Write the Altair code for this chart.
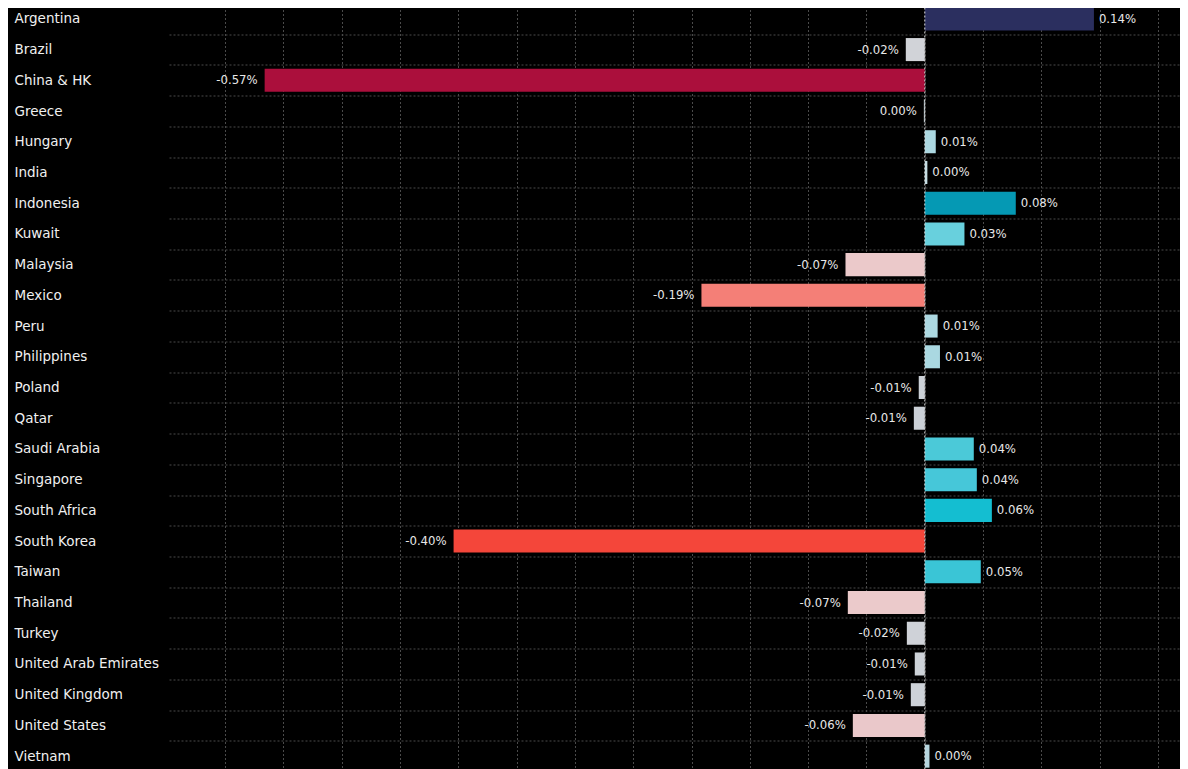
import altair as alt
import pandas as pd

countries = [
    "Argentina", "Brazil", "China & HK", "Greece", "Hungary", "India",
    "Indonesia", "Kuwait", "Malaysia", "Mexico", "Peru", "Philippines",
    "Poland", "Qatar", "Saudi Arabia", "Singapore", "South Africa",
    "South Korea", "Taiwan", "Thailand", "Turkey", "United Arab Emirates",
    "United Kingdom", "United States", "Vietnam",
]
values = [
    0.145, -0.0163, -0.566, -0.0008, 0.0094, 0.0022,
    0.078, 0.034, -0.068, -0.1915, 0.011, 0.013,
    -0.0052, -0.0094, 0.042, 0.0446, 0.0575,
    -0.404, 0.048, -0.066, -0.0154, -0.0086,
    -0.012, -0.0617, 0.004,
]
bar_colors = [
    "#2b2f5f", "#d1d3d8", "#ab0f3c", "#c8d8e0", "#acd8e1", "#c5dde3",
    "#0599b4", "#68d0dd", "#ebc9ca", "#f47f77", "#acd8e1", "#aad8e1",
    "#ccd1d7", "#cbd0d7", "#4bc9d8", "#46c7d9", "#14bed1",
    "#f4463a", "#3ac5d6", "#ebcacb", "#cfd2d8", "#cdd2d8",
    "#cdd2d8", "#eac8ca", "#b5d5de",
]
grid_values = [-0.60, -0.55, -0.50, -0.45, -0.40, -0.35, -0.30, -0.25, -0.20,
               -0.15, -0.10, -0.05, 0.0, 0.05, 0.10, 0.15, 0.20]

df = pd.DataFrame({"country": countries, "value": values})

x_scale = alt.Scale(domain=[-0.648, 0.2188], nice=False, zero=False)
y_scale = alt.Scale(domain=countries, paddingInner=0, paddingOuter=0)

grid_color = "#4a4a4a"
label_font = "DejaVu Sans Condensed, DejaVu Sans"

y_enc = alt.Y(
    "country:N", scale=y_scale, sort=None,
    axis=alt.Axis(
        title=None, labelAlign="left", labelPadding=155, ticks=False,
        domain=False, grid=True, tickBand="extent", gridColor=grid_color,
        gridDash=[2, 2], gridWidth=1, labelColor="#f0f0f0",
        labelFont="DejaVu Sans", labelFontSize=13.5, labelBaseline="middle",
    ),
)
x_enc = alt.X(
    "value:Q", scale=x_scale,
    axis=alt.Axis(
        title=None, labels=False, ticks=False, domain=False, grid=True,
        values=grid_values, gridColor=grid_color, gridDash=[2, 2], gridWidth=1,
    ),
)

base = alt.Chart(df)

bars = base.mark_bar(height={"band": 0.75}).encode(
    y=y_enc,
    x=x_enc,
    color=alt.Color("country:N", scale=alt.Scale(domain=countries, range=bar_colors), legend=None),
)

labeled = base.transform_calculate(
    label="(datum.value < 0 && abs(datum.value) >= 0.005 ? '-' : '') + format(abs(datum.value), '.2f') + '%'"
)

pos_labels = labeled.transform_filter("datum.value >= 0").mark_text(
    align="left", baseline="middle", dx=5, color="#e8e8e8", font=label_font, fontSize=13
).encode(
    y=alt.Y("country:N", scale=y_scale, sort=None),
    x=alt.X("value:Q", scale=x_scale),
    text="label:N",
)

neg_labels = labeled.transform_filter("datum.value < 0").mark_text(
    align="right", baseline="middle", dx=-7, color="#e8e8e8", font=label_font, fontSize=13
).encode(
    y=alt.Y("country:N", scale=y_scale, sort=None),
    x=alt.X("value:Q", scale=x_scale),
    text="label:N",
)

zero_rule = alt.Chart(pd.DataFrame({"zero": [0.0]})).mark_rule(
    color="#dddddd", strokeDash=[2, 2], strokeWidth=1
).encode(x=alt.X("zero:Q", scale=x_scale))

chart = alt.layer(bars, zero_rule, pos_labels, neg_labels).properties(
    width=1011,
    height=768,
    background="#000000",
    autosize=alt.AutoSizeParams(type="none"),
    padding={"left": 161, "top": -4.5, "right": 0, "bottom": 0},
).configure_view(stroke=None)

chart.save("out.html", embed_options={"renderer": "svg", "actions": False})
